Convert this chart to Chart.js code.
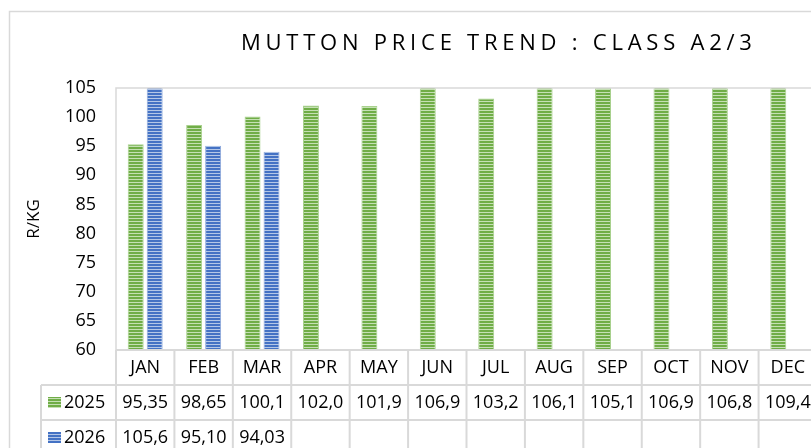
<!DOCTYPE html>
<html>
<head>
<meta charset="utf-8">
<script src="https://cdn.jsdelivr.net/npm/chart.js@4.4.1/dist/chart.umd.min.js"></script>
<style>
  html, body { margin: 0; padding: 0; background: #fff; overflow: hidden; }
  #wrap { width: 830px; height: 448px; }
</style>
</head>
<body>
<div id="wrap"><canvas id="myChart" width="830" height="448"></canvas></div>
<script>
// chart data
const months = ['JAN', 'FEB', 'MAR', 'APR', 'MAY', 'JUN', 'JUL', 'AUG', 'SEP', 'OCT', 'NOV', 'DEC'];
const price2025 = [95.35, 98.65, 100.1, 102.0, 101.9, 106.9, 103.2, 106.1, 105.1, 106.9, 106.8, 109.4];
const price2026 = [105.6, 95.10, 94.03];
const seriesNames = ['2025', '2026'];
const yTicks = [60, 65, 70, 75, 80, 85, 90, 95, 100, 105];
const chartTitle = 'MUTTON PRICE TREND : CLASS A2/3';

const FONT = '"Open Sans", "DejaVu Sans", sans-serif';
const GRID = '#d9d9d9';

// striped fill like the excel pattern
function stripes(dark, light){
    const c = document.createElement('canvas');
    c.width = 4; c.height = 3;
    const g = c.getContext('2d');
    g.fillStyle = dark;
    g.fillRect(0, 0, 4, 2);
    g.fillStyle = light;
    g.fillRect(0, 2, 4, 1);
    return g.createPattern(c, 'repeat');
};
const greenFill = stripes('#70ad47', '#c5e0b4');
const blueFill = stripes('#4472c4', '#b4c7e7');

function fmt(v){
    return v.toPrecision(4).replace('.', ',');
};

const tablePlugin = {
    id: 'tablePlugin',
    afterDraw(chart){
        const ctx = chart.ctx;
        const area = chart.chartArea;
        const x = chart.scales.x;
        const colW = x.width / months.length;
        const rowTop = area.bottom;
        const rows = [rowTop, rowTop + 35, rowTop + 70, rowTop + 105];
        const leftCol = 41;

        ctx.save();
        // outer chart frame
        ctx.strokeStyle = GRID;
        ctx.lineWidth = 1.5;
        ctx.beginPath();
        ctx.moveTo(9.5, 460);
        ctx.lineTo(9.5, 11.5);
        ctx.lineTo(830, 11.5);
        ctx.stroke();

        // plot area frame
        ctx.lineWidth = 1.5;
        ctx.beginPath();
        ctx.moveTo(area.left, area.bottom);
        ctx.lineTo(area.left, area.top);
        ctx.lineTo(830, area.top);
        ctx.stroke();

        // table grid
        ctx.lineWidth = 2;
        ctx.beginPath();
        ctx.moveTo(area.left, rows[0]);
        ctx.lineTo(830, rows[0]);
        for (let r = 1; r < rows.length; r++){
            ctx.moveTo(leftCol, rows[r]);
            ctx.lineTo(830, rows[r]);
        }
        for (let i = 0; i <= months.length; i++){
            const bx = x.getPixelForValue(i) - colW / 2;
            ctx.moveTo(bx, rows[0]);
            ctx.lineTo(bx, 460);
        }
        ctx.moveTo(leftCol, rows[1]);
        ctx.lineTo(leftCol, 460);
        ctx.stroke();

        // texts
        ctx.fillStyle = '#000';
        ctx.font = '18px ' + FONT;
        ctx.textAlign = 'center';
        ctx.textBaseline = 'middle';
        months.forEach((m, i) => {
            const cx = x.getPixelForValue(i);
            ctx.fillText(m, cx, rows[0] + 18);
            if (price2025[i] != null) ctx.fillText(fmt(price2025[i]), cx, rows[1] + 18);
            if (price2026[i] != null) ctx.fillText(fmt(price2026[i]), cx, rows[2] + 18);
        });

        // legend keys
        const keys = [greenFill, blueFill];
        seriesNames.forEach((name, k) => {
            const ry = rows[k + 1];
            ctx.fillStyle = keys[k];
            ctx.fillRect(48, ry + 12, 13, 11);
            ctx.fillStyle = '#000';
            ctx.textAlign = 'left';
            ctx.fillText(name, 64, ry + 18);
        });

        // title with letter spacing
        ctx.font = '22px ' + FONT;
        ctx.textAlign = 'left';
        ctx.fillStyle = '#000';
        ctx.letterSpacing = '0px';
        const w0 = ctx.measureText(chartTitle).width;
        const sp = (511 - w0) / (chartTitle.length - 1);
        ctx.letterSpacing = sp.toFixed(2) + 'px';
        ctx.fillText(chartTitle, 241, 44);
        ctx.letterSpacing = '0px';
        ctx.restore();
    }
};

const ctx = document.getElementById('myChart').getContext('2d');
const myChart = new Chart(ctx, {
    type: 'bar',
    data: {
        labels: months,
        datasets: [{
            label: seriesNames[0],
            data: price2025,
            backgroundColor: greenFill,
            borderColor: '#a9d18e',
            borderWidth: 1
        },
        {
            label: seriesNames[1],
            data: price2026,
            backgroundColor: blueFill,
            borderColor: '#8faadc',
            borderWidth: 1
        }]
    },
    options: {
        responsive: false,
        animation: false,
        devicePixelRatio: 1,
        layout: {
            padding: {top: 88, right: 13, bottom: 98, left: 0}
        },
        datasets: {
            bar: {categoryPercentage: 0.65, barPercentage: 0.84}
        },
        plugins: {
            legend: {display: false},
            title: {display: false},
            tooltip: {enabled: false}
        },
        scales: {
            x: {
                display: false
            },
            y: {
                min: 60,
                max: 105,
                afterFit(scale){ scale.width = 116; },
                afterBuildTicks(scale){ scale.ticks = yTicks.map(v => ({value: v})); },
                grid: {display: false, drawTicks: false},
                border: {display: false},
                ticks: {
                    padding: 20,
                    color: '#000',
                    font: {family: FONT, size: 18}
                },
                title: {
                    display: true,
                    text: 'R/KG',
                    color: '#000',
                    padding: {top: 24, bottom: 0},
                    font: {family: FONT, size: 17}
                }
            }
        }
    },
    plugins: [tablePlugin]
});
</script>
</body>
</html>
